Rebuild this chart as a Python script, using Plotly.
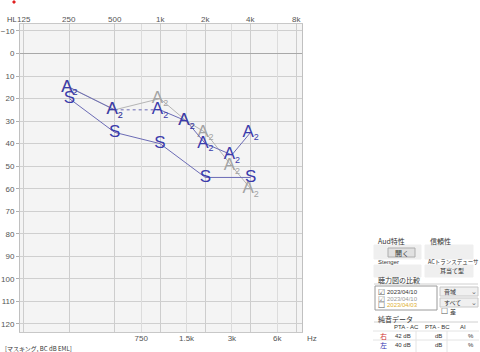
import math
import plotly.graph_objects as go

# ---------------- data ----------------
freq_top = [125, 250, 500, 1000, 2000, 4000, 8000]
freq_top_labels = ["125", "250", "500", "1k", "2k", "4k", "8k"]
freq_bottom = [750, 1500, 3000, 6000]
freq_bottom_labels = ["750", "1.5k", "3k", "6k"]
db_ticks = list(range(-10, 130, 10))

# current AC (blue A)
ac_freq = [250, 500, 1000, 1500, 2000, 3000, 4000]
ac_db = [15, 25, 25, 30, 40, 45, 35]
# previous AC (gray A)
ac_prev_freq = [250, 500, 1000, 1500, 2000, 3000, 4000]
ac_prev_db = [15, 25, 20, 30, 35, 50, 60]
# S symbol
s_freq = [250, 500, 1000, 2000, 4000]
s_db = [20, 35, 40, 55, 55]

pta_right = "42 dB"
pta_left = "40 dB"

W, H = 480, 352
BLUE = "#3b3bab"
BLUE_LINE = "#6b6bb5"
GRAY = "#a3a3a3"
FONT = "Liberation Sans"
CJK = "Noto Sans CJK JP"
A_TXT = "A<sub><span style='font-size:9px'>2</span></sub>"

fig = go.Figure()

# previous (gray) series
fig.add_trace(go.Scatter(
    x=ac_prev_freq, y=ac_prev_db, mode="lines+text",
    line=dict(color="#b5b5b5", width=1),
    text=[A_TXT] * len(ac_prev_freq),
    textfont=dict(family=FONT, size=17, color=GRAY),
    textposition="middle center", cliponaxis=False, showlegend=False))

# blue AC lines: solid / dashed / solid
fig.add_trace(go.Scatter(x=ac_freq[0:2], y=ac_db[0:2], mode="lines",
                         line=dict(color=BLUE_LINE, width=1), showlegend=False))
fig.add_trace(go.Scatter(x=ac_freq[1:3], y=ac_db[1:3], mode="lines",
                         line=dict(color=BLUE_LINE, width=1, dash="dot"), showlegend=False))
fig.add_trace(go.Scatter(x=ac_freq[2:], y=ac_db[2:], mode="lines",
                         line=dict(color=BLUE_LINE, width=1), showlegend=False))
# S series
fig.add_trace(go.Scatter(x=s_freq, y=s_db, mode="lines+text",
                         line=dict(color=BLUE_LINE, width=1),
                         text=["S"] * len(s_freq),
                         textfont=dict(family=FONT, size=17, color=BLUE),
                         textposition="middle center", cliponaxis=False, showlegend=False))
# blue A symbols
fig.add_trace(go.Scatter(x=ac_freq, y=ac_db, mode="text",
                         text=[A_TXT] * len(ac_freq),
                         textfont=dict(family=FONT, size=17, color=BLUE),
                         textposition="middle center", cliponaxis=False, showlegend=False))

# dummy trace for bottom axis
fig.add_trace(go.Scatter(x=[1000], y=[None], xaxis="x2", yaxis="y",
                         mode="markers", showlegend=False, hoverinfo="skip"))

xr = [2.0704, 3.9429]
dom_x = [20 / W, 302 / W]
fig.update_layout(
    width=W, height=H, margin=dict(l=0, r=0, t=0, b=0),
    paper_bgcolor="white", plot_bgcolor="#f4f4f4",
    font=dict(family=FONT, size=8, color="#555"),
    xaxis=dict(type="log", range=xr, domain=dom_x, side="top",
               tickvals=freq_top, showticklabels=False,
               showgrid=True, gridcolor="#cdcdcd", gridwidth=1,
               showline=True, linecolor="#c8c8c8", mirror=True,
               ticks="", zeroline=False),
    xaxis2=dict(type="log", range=xr, domain=dom_x, side="bottom", overlaying="x",
                anchor="y", tickvals=freq_bottom, ticktext=freq_bottom_labels,
                showgrid=True, gridcolor="#dcdcdc", gridwidth=1,
                ticks="", tickfont=dict(size=8, color="#555"), zeroline=False),
    yaxis=dict(range=[123.6, -13.1], domain=[(H - 332) / H, (H - 24) / H],
               tickvals=db_ticks, showgrid=True, gridcolor="#cfcfcf",
               zeroline=True, zerolinecolor="#a8a8a8", zerolinewidth=1,
               showline=True, linecolor="#c0c0c0", mirror=True,
               ticks="outside", ticklen=3, tickcolor="#b0b0b0",
               tickfont=dict(size=8, color="#555")),
)

# top frequency labels placed on the x scale
for f, lab in zip(freq_top, freq_top_labels):
    fig.add_annotation(x=math.log10(f), xref="x", y=1 - 20 / H, yref="paper",
                       text=lab, showarrow=False, xanchor="center", yanchor="middle",
                       font=dict(family=FONT, size=8, color="#555"))


def px(x, y):
    return x / W, 1 - y / H


def txt(x, y, s, size=7, color="#333", family=CJK, anchor="left"):
    xx, yy = px(x, y)
    fig.add_annotation(x=xx, y=yy, xref="paper", yref="paper", text=s,
                       showarrow=False, xanchor=anchor, yanchor="middle",
                       font=dict(family=family, size=size, color=color))


def rect(x0, y0, x1, y1, fill, line=None):
    a0, b0 = px(x0, y0)
    a1, b1 = px(x1, y1)
    fig.add_shape(type="rect", xref="paper", yref="paper", x0=a0, y0=b1, x1=a1, y1=b0,
                  fillcolor=fill, line=dict(color=line or fill, width=1), layer="below")


def hline(x0, x1, y, color="#d0d0d0"):
    a0, b = px(x0, y)
    a1, _ = px(x1, y)
    fig.add_shape(type="line", xref="paper", yref="paper", x0=a0, x1=a1, y0=b, y1=b,
                  line=dict(color=color, width=1))


# chart labels
txt(5, 20, "HL", size=7.5, color="#444", family=FONT)
txt(305, 338, "Hz", size=8, color="#555", family=FONT)
txt(3, 348, "[マスキング, BC dB EML]", size=6, color="#333")
rect(13, 1, 15, 3, "#e02020")

# right-hand panel
rect(374, 245, 421, 259, "#efefef")
rect(425, 245, 473, 259, "#efefef")
rect(374, 265, 421, 277, "#efefef")
rect(425, 265, 473, 277, "#efefef")
rect(388, 248, 415, 257, "#e1e1e1", "#adadad")
txt(376, 241, "Aud特性", size=7)
txt(401.5, 252.5, "開く", size=7, anchor="center")
txt(428, 241, "信頼性", size=7)
txt(376, 262, "Stenger", size=6, family=FONT)
txt(426, 262, "ACトランスデューサ", size=5.5)
txt(452, 270, "耳当て型", size=6, anchor="center")

txt(376, 280, "聴力図の比較", size=7)
hline(374, 478, 284)
rect(375, 286, 437, 310, "white", "#9a9a9a")
txt(376, 292, "☑", size=8, color="#555", family="DejaVu Sans")
txt(385, 292, "2023/04/10", size=6, color="#333", family=FONT)
txt(376, 299, "☑", size=8, color="#777", family="DejaVu Sans")
txt(385, 299, "2023/04/10", size=6, color="#9a9a9a", family=FONT)
txt(376, 305, "☐", size=8, color="#555", family="DejaVu Sans")
txt(385, 305, "2023/04/03", size=6, color="#e0b030", family=FONT)

rect(440, 287, 478, 296, "#f0f0f0", "#c8c8c8")
txt(442, 291.5, "音域", size=6)
txt(474, 291.5, "⌄", size=7, color="#666", family="DejaVu Sans", anchor="center")
rect(440, 298, 478, 307, "#f0f0f0", "#c8c8c8")
txt(442, 302.5, "すべて", size=6)
txt(474, 302.5, "⌄", size=7, color="#666", family="DejaVu Sans", anchor="center")
txt(439, 311, "☐", size=8, color="#555", family="DejaVu Sans")
txt(448, 311, "差", size=6)

txt(376, 319, "純音データ", size=7)
hline(374, 478, 322)
rect(373, 323, 479, 352, "white")
txt(406, 327, "PTA - AC", size=6, family=FONT, anchor="center")
txt(437, 327, "PTA - BC", size=6, family=FONT, anchor="center")
txt(463, 327, "AI", size=6, family=FONT, anchor="center")
hline(373, 479, 331, "#e4e4e4")
txt(378, 336, "右", size=7, color="#d03030")
txt(413, 336, pta_right, size=6, family=FONT, anchor="right")
txt(444, 336, "dB", size=6, family=FONT, anchor="right")
txt(476, 336, "%", size=6, family=FONT, anchor="right")
hline(373, 479, 340, "#e4e4e4")
txt(378, 345, "左", size=7, color="#3030b0")
txt(413, 345, pta_left, size=6, family=FONT, anchor="right")
txt(444, 345, "dB", size=6, family=FONT, anchor="right")
txt(476, 345, "%", size=6, family=FONT, anchor="right")
for xc in [416, 447]:
    a, b0 = px(xc, 331)
    _, b1 = px(xc, 352)
    fig.add_shape(type="line", xref="paper", yref="paper", x0=a, x1=a, y0=b0, y1=b1,
                  line=dict(color="#e4e4e4", width=1))

fig.write_html("out.html")
